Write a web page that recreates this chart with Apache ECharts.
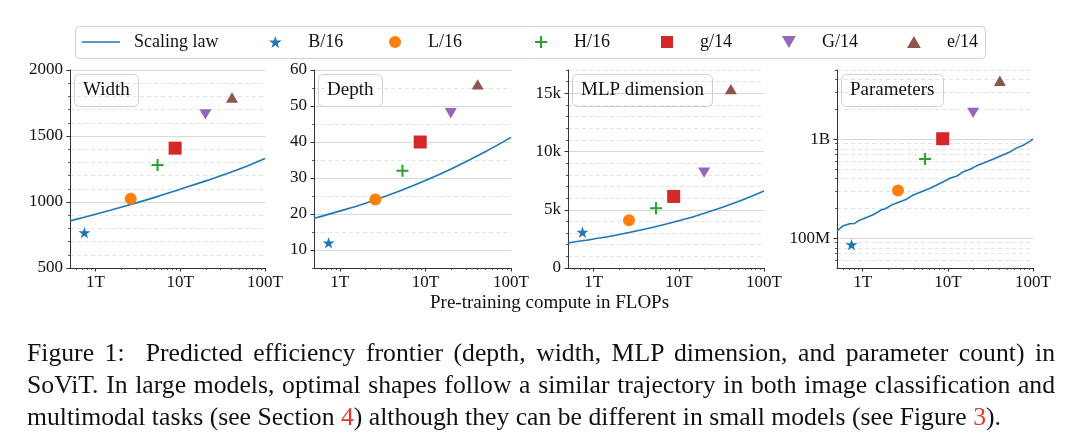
<!DOCTYPE html>
<html><head><meta charset="utf-8">
<script src="https://cdn.jsdelivr.net/npm/echarts@6/dist/echarts.min.js"></script>
<style>
html,body{margin:0;padding:0;background:#fff;}
#wrap{position:relative;width:1080px;height:447px;overflow:hidden;}
#chart{position:absolute;left:0;top:0;width:1080px;height:447px;}
#cap{position:absolute;left:27px;top:337px;width:1028px;font-family:'Liberation Serif',serif;font-size:25.7px;line-height:32px;color:#111;}
#cap div{white-space:nowrap;}
.j{text-align:justify;text-align-last:justify;}
.r{color:#e8352c;}
</style></head><body>
<div id="wrap"><div id="chart"></div>
<div id="cap">
<div class="j">Figure 1:&nbsp; Predicted efficiency frontier (depth, width, MLP dimension, and parameter count) in</div>
<div class="j">SoViT. In large models, optimal shapes follow a similar trajectory in both image classification and</div>
<div>multimodal tasks (see Section <span class="r">4</span>) although they can be different in small models (see Figure <span class="r">3</span>).</div>
</div>
</div>
<script>
// ---------- data ----------
const models = ['B/16', 'L/16', 'H/16', 'g/14', 'G/14', 'e/14'];
const modelCompute = [0.74, 2.6, 5.4, 8.7, 19.8, 40.8];          // TFLOPs
const modelWidth = [768, 1024, 1280, 1408, 1664, 1792];
const modelDepth = [12, 24, 32, 40, 48, 56];
const modelMlp = [3072, 4096, 5120, 6144, 8192, 15360];
const modelParams = [86, 303, 632, 1011, 1843, 3900];            // millions

const lawCompute = [0.5, 1, 2, 5, 10, 20, 50, 100];
const lawWidth = [857, 907, 960, 1035, 1097, 1160, 1250, 1330];
const lawDepth = [18.8, 20.8, 23.0, 26.4, 29.3, 32.5, 37.3, 41.3];
const lawMlp = [2150, 2490, 2880, 3500, 4050, 4700, 5720, 6620];
const lawParamsCompute = [0.5, 0.585, 0.703, 0.805, 0.922, 1.106, 1.387, 1.663, 1.82, 2.18, 2.74, 3.28, 3.93, 5.15, 6.18, 7.41, 8.87, 10.6, 12.8, 15.3, 18.3, 22.0, 26.3, 34.5, 41.4, 54.3, 65.2, 78.0, 93.6, 100];
const lawParams = [118, 133, 140, 141, 152, 162, 176, 194, 197, 216, 233, 248, 273, 299, 319, 345, 372, 403, 425, 470, 497, 541, 576, 631, 677, 748, 822, 875, 962, 1000];

// ---------- ticks ----------
const xMajor = [1, 10, 100];
const xLabels = ['1T', '10T', '100T'];
const xMinor = [0.6, 0.7, 0.8, 0.9, 2, 3, 4, 5, 6, 7, 8, 9, 20, 30, 40, 50, 60, 70, 80, 90];

const widthMajor = [500, 1000, 1500, 2000];
const widthLabels = ['500', '1000', '1500', '2000'];
const widthMinor = [600, 700, 800, 900, 1100, 1200, 1300, 1400, 1600, 1700, 1800, 1900];

const depthMajor = [10, 20, 30, 40, 50, 60];
const depthLabels = ['10', '20', '30', '40', '50', '60'];
const depthMinor = [5, 15, 25, 35, 45, 55];

const mlpMajor = [0, 5000, 10000, 15000];
const mlpLabels = ['0', '5k', '10k', '15k'];
const mlpMinor = [1000, 2000, 3000, 4000, 6000, 7000, 8000, 9000, 11000, 12000, 13000, 14000, 16000, 17000];

const paramMajor = [100, 1000];
const paramLabels = ['100M', '1B'];
const paramMinor = [60, 70, 80, 90, 200, 300, 400, 500, 600, 700, 800, 900, 2000, 3000, 4000, 5000];

const panelTitles = ['Width', 'Depth', 'MLP dimension', 'Parameters'];
const legendNames = ['Scaling law'].concat(models);

// ---------- styles ----------
const FONT = 'Liberation Serif';
const TXT = '#111';
const AX = '#333';
const BLUE = '#1f77b4';
const COLORS = ['#1f77b4', '#ff7f0e', '#2ca02c', '#d62728', '#9467bd', '#8c564b'];
const SYMBOLS = [
  'path://M0,-10L2.245,-3.09L9.51,-3.09L3.63,1.18L5.88,8.09L0,3.82L-5.88,8.09L-3.63,1.18L-9.51,-3.09L-2.245,-3.09Z',
  'circle',
  'path://M-1,-6L1,-6L1,-1L6,-1L6,1L1,1L1,6L-1,6L-1,1L-6,1L-6,-1L-1,-1Z',
  'path://M0,0L10,0L10,10L0,10Z',
  'path://M-6,-5.2L6,-5.2L0,5.2Z',
  'path://M0,-5.2L6,5.2L-6,5.2Z'
];
const SIZES = [12, 12, 12, 13, 12, 12];
const LINE_ICON = 'path://M0,0L38,0L38,1.6L0,1.6Z';

const grids = [
  {left: 70, top: 70, width: 195, height: 198},
  {left: 314, top: 70, width: 197, height: 198},
  {left: 568, top: 70, width: 196, height: 198},
  {left: 837, top: 70, width: 196, height: 198}
];
const legendLefts = [82, 269, 389, 535, 661, 782, 907];

function labelFor(vals, labels) {
  return function (v) {
    for (let i = 0; i < vals.length; i++) {
      const d = Math.abs(v - vals[i]);
      if (d <= Math.abs(vals[i]) * 1e-6 + 1e-9) return labels[i];
    }
    return '';
  };
}

const labelStyle = {color: TXT, fontFamily: FONT, fontSize: 17};

function xAxesFor(g) {
  return [
    {type: 'log', logBase: 10, gridIndex: g, min: 0.5, max: 100, position: 'bottom',
     axisLine: {show: true, onZero: false, lineStyle: {color: AX, width: 1}},
     axisTick: {show: true, customValues: xMajor, length: 3.5, lineStyle: {color: AX, width: 1}},
     axisLabel: Object.assign({customValues: xMajor, margin: 6, formatter: labelFor(xMajor, xLabels)}, labelStyle),
     splitLine: {show: false}, minorTick: {show: false}, minorSplitLine: {show: false}},
    {type: 'log', logBase: 10, gridIndex: g, min: 0.5, max: 100, position: 'bottom',
     axisLine: {show: false, onZero: false},
     axisTick: {show: true, customValues: xMinor, length: 2, lineStyle: {color: AX, width: 0.8}},
     axisLabel: {show: false},
     splitLine: {show: false}}
  ];
}

function yAxesFor(g, type, min, max, major, labels, minor) {
  return [
    {type: type, gridIndex: g, min: min, max: max, position: 'left',
     axisLine: {show: true, onZero: false, lineStyle: {color: AX, width: 1}},
     axisTick: {show: true, customValues: major, length: 3.5, lineStyle: {color: AX, width: 1}},
     axisLabel: Object.assign({customValues: major, margin: 7, formatter: labelFor(major, labels)}, labelStyle),
     splitLine: {show: true, lineStyle: {color: '#d8d8d8', width: 1, type: 'solid'}},
     minorTick: {show: false}, minorSplitLine: {show: false}},
    {type: type, gridIndex: g, min: min, max: max, position: 'left',
     axisLine: {show: false, onZero: false},
     axisTick: {show: true, customValues: minor, length: 2, lineStyle: {color: AX, width: 0.8}},
     axisLabel: {show: false},
     splitLine: {show: true, lineStyle: {color: '#e4e4e4', width: 1, type: [4, 3]}}}
  ];
}

const xAxis = [].concat(xAxesFor(0), xAxesFor(1), xAxesFor(2), xAxesFor(3));
const yAxis = [].concat(
  yAxesFor(0, 'value', 500, 2000, widthMajor, widthLabels, widthMinor),
  yAxesFor(1, 'value', 5, 60, depthMajor, depthLabels, depthMinor),
  yAxesFor(2, 'value', 0, 17000, mlpMajor, mlpLabels, mlpMinor),
  yAxesFor(3, 'log', 50, 5000, paramMajor, paramLabels, paramMinor)
);

const series = [];
function addPanel(g, lx, ly, py, smooth) {
  series.push({
    type: 'line', name: 'Scaling law', xAxisIndex: 2 * g, yAxisIndex: 2 * g,
    data: lx.map((x, i) => [x, ly[i]]), symbol: 'none', showSymbol: false,
    smooth: smooth, lineStyle: {color: BLUE, width: 1.6}, itemStyle: {color: BLUE}, z: 2
  });
  models.forEach((m, i) => {
    series.push({
      type: 'scatter', name: m, xAxisIndex: 2 * g, yAxisIndex: 2 * g,
      data: [[modelCompute[i], py[i]]], symbol: SYMBOLS[i], symbolSize: SIZES[i],
      symbolKeepAspect: true, itemStyle: {color: COLORS[i], opacity: 1}, z: 3
    });
  });
}
addPanel(0, lawCompute, lawWidth, modelWidth, 0.4);
addPanel(1, lawCompute, lawDepth, modelDepth, 0.4);
addPanel(2, lawCompute, lawMlp, modelMlp, 0.4);
addPanel(3, lawParamsCompute, lawParams, modelParams, false);

const titles = panelTitles.map((t, g) => ({
  text: t, left: grids[g].left + 4, top: 74,
  padding: [7, 9, 7, 9], borderColor: '#d0d0d0', borderWidth: 1, borderRadius: 5,
  textStyle: {fontFamily: FONT, fontSize: 19, fontWeight: 'normal', color: TXT}
}));

const legends = legendNames.map((n, i) => ({
  left: legendLefts[i], top: 33, padding: 0, orient: 'horizontal',
  itemWidth: 38, itemHeight: 12, selectedMode: false,
  data: [i === 0 ? {name: n, icon: LINE_ICON} : {name: n, icon: SYMBOLS[i - 1]}],
  textStyle: {fontFamily: FONT, fontSize: 18, color: TXT, padding: [0, 0, 0, 9]}
}));

const chart = echarts.init(document.getElementById('chart'), null, {renderer: 'canvas'});
chart.setOption({
  animation: false,
  backgroundColor: '#fff',
  grid: grids,
  xAxis: xAxis,
  yAxis: yAxis,
  title: titles,
  legend: legends,
  graphic: [
    {type: 'rect', left: 75, top: 26, z: -1, silent: true,
     shape: {width: 910, height: 32, r: 4},
     style: {fill: '#fff', stroke: '#d0d0d0', lineWidth: 1}},
    {type: 'text', left: 430, top: 294,
     style: {text: 'Pre-training compute in FLOPs', fontFamily: FONT, fontSize: 19, fill: TXT}}
  ],
  series: series
});
</script>
</body></html>
